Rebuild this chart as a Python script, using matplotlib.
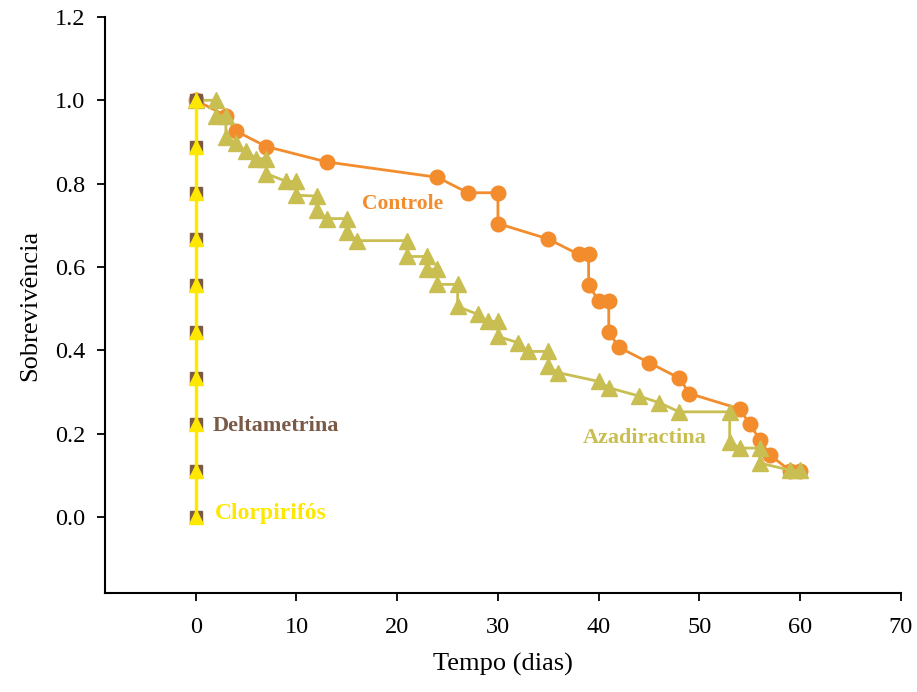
# -*- coding: utf-8 -*-
"""
Curvas de sobrevivencia por tratamento
"""

import matplotlib
matplotlib.use('Agg')
import matplotlib.pyplot as plt

# dados
controle_x = [0, 3, 4, 7, 13, 24, 27, 30, 30, 35, 38, 39, 39, 40, 41, 41, 42,
              45, 48, 49, 54, 55, 56, 57, 59, 60]
controle_y = [1.0, 0.963, 0.926, 0.889, 0.852, 0.815, 0.778, 0.778, 0.704,
              0.667, 0.630, 0.630, 0.556, 0.519, 0.519, 0.444, 0.407, 0.370,
              0.333, 0.296, 0.259, 0.222, 0.185, 0.148, 0.111, 0.111]

azadiractina_x = [0, 2, 2, 3, 3, 4, 5, 6, 7, 7, 9, 10, 10, 12, 12, 13, 15, 15,
                  16, 21, 21, 23, 23, 24, 24, 26, 26, 28, 29, 30, 30, 32, 33,
                  35, 35, 36, 40, 41, 44, 46, 48, 53, 53, 54, 56, 56, 59, 60]
azadiractina_y = [1.0, 1.0, 0.963, 0.963, 0.913, 0.897, 0.877, 0.86, 0.86,
                  0.824, 0.805, 0.805, 0.772, 0.77, 0.736, 0.716, 0.716, 0.683,
                  0.663, 0.663, 0.625, 0.625, 0.594, 0.594, 0.558, 0.558, 0.505,
                  0.486, 0.469, 0.469, 0.433, 0.418, 0.397, 0.397, 0.361, 0.346,
                  0.325, 0.31, 0.29, 0.274, 0.252, 0.252, 0.18, 0.165, 0.165,
                  0.129, 0.112, 0.112]

deltametrina_x = [0, 0, 0, 0, 0, 0, 0, 0, 0, 0]
deltametrina_y = [1.0, 0.889, 0.778, 0.667, 0.556, 0.444, 0.333, 0.222, 0.111, 0.0]

clorpirifos_x = [0, 0, 0, 0, 0, 0, 0, 0, 0, 0]
clorpirifos_y = [1.0, 0.889, 0.778, 0.667, 0.556, 0.444, 0.333, 0.222, 0.111, 0.0]

x_ticks = [0, 10, 20, 30, 40, 50, 60, 70]
y_ticks = [0.0, 0.2, 0.4, 0.6, 0.8, 1.0, 1.2]

cor_controle = '#F28C2C'
cor_azadiractina = '#C9BE52'
cor_deltametrina = '#7A5A46'
cor_clorpirifos = '#FFE800'


def plot_survival():
    plt.rcParams['font.family'] = ['Liberation Serif', 'DejaVu Serif']
    fig = plt.figure(figsize=(9.17, 6.92), dpi=100)
    ax = fig.add_axes([0.1145, 0.143, 0.868, 0.8325])

    ax.plot(controle_x, controle_y, color=cor_controle, lw=2, marker='o',
            ms=10.5, mec=cor_controle, zorder=2)
    ax.plot(azadiractina_x, azadiractina_y, color=cor_azadiractina, lw=2,
            marker='^', ms=11, mec=cor_azadiractina, zorder=3)
    ax.plot(deltametrina_x, deltametrina_y, color=cor_deltametrina, lw=2,
            marker='s', ms=9, mec=cor_deltametrina, zorder=4)
    ax.plot(clorpirifos_x, clorpirifos_y, color=cor_clorpirifos, lw=2.5,
            marker='^', ms=10.5, mec=cor_clorpirifos, zorder=5)

    ax.text(16.5, 0.752, 'Controle', color=cor_controle, fontsize=15.5,
            fontweight='bold', va='center')
    ax.text(38.4, 0.19, 'Azadiractina', color=cor_azadiractina, fontsize=16,
            fontweight='bold', va='center')
    ax.text(1.7, 0.218, 'Deltametrina', color=cor_deltametrina, fontsize=16,
            fontweight='bold', va='center')
    ax.text(1.9, 0.008, 'Clorpirifós', color=cor_clorpirifos, fontsize=17,
            fontweight='bold', va='center')

    ax.set_xlim(-9, 70)
    ax.set_ylim(-0.183, 1.2)
    ax.set_xticks(x_ticks)
    ax.set_yticks(y_ticks)
    ax.set_yticklabels(['%.1f' % v for v in y_ticks])
    ax.tick_params(direction='out', length=6, width=1.3, labelsize=17.5,
                   pad=8)
    ax.tick_params(axis='x', pad=11)
    for side in ['top', 'right']:
        ax.spines[side].set_visible(False)
    for side in ['left', 'bottom']:
        ax.spines[side].set_linewidth(1.5)

    ax.set_xlabel('Tempo (dias)', fontsize=19, labelpad=11)
    ax.set_ylabel('Sobrevivência', fontsize=19, labelpad=10)

    plt.savefig('out.png', dpi=100)


def main():
    plot_survival()


if __name__ == '__main__':
    main()
